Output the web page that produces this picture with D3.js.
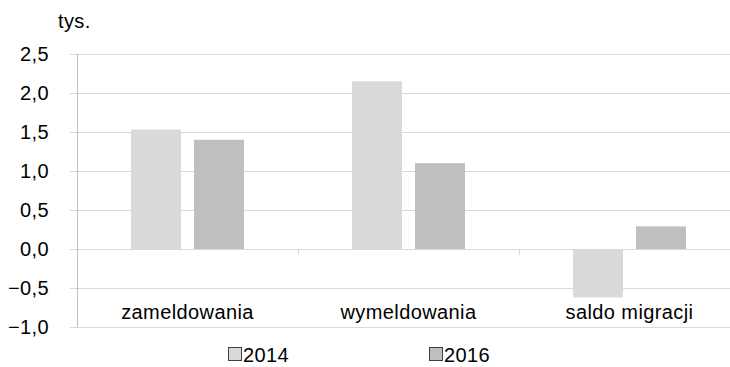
<!DOCTYPE html>
<meta charset="utf-8">
<script src="https://cdn.jsdelivr.net/npm/d3@7"></script>
<style>
body { margin: 0; background: #fff; }
text { font-family: "Liberation Sans", Arial, sans-serif; fill: #000; font-size: 20px; letter-spacing: 0.4px; }
.grid line { stroke: #d9d9d9; stroke-width: 1px; }
</style>
<body>
<script>

var categories = ["zameldowania", "wymeldowania", "saldo migracji"];
var series = ["2014", "2016"];
var values2014 = [1.53, 2.15, -0.62];
var values2016 = [1.40, 1.10, 0.29];
var yTicks = [-1.0, -0.5, 0.0, 0.5, 1.0, 1.5, 2.0, 2.5];
var colors = ["#d9d9d9", "#bfbfbf"];

var width = 730, height = 367;
var mLeft = 77, mRight = 740, mTop = 54, mBottom = 327;

var svg = d3.select("body").append("svg")
    .attr("width", width)
    .attr("height", height);

var x0 = d3.scaleBand()
    .domain(categories)
    .range([mLeft, mRight]);

var x1 = d3.scaleBand()
    .domain(series)
    .range([54, 167])
    .paddingInner(13 / 63);

var y = d3.scaleLinear()
    .domain([-1, 2.5])
    .range([mBottom, mTop]);

var fmt = function(d) { return d3.format(".1f")(d).replace(".", ","); };

// gridlines + y labels
var grid = svg.append("g").attr("class", "grid");
grid.selectAll("line")
    .data(yTicks)
    .enter().append("line")
    .attr("x1", mLeft - 7)
    .attr("x2", width)
    .attr("y1", function(d) { return Math.round(y(d)) + 0.5; })
    .attr("y2", function(d) { return Math.round(y(d)) + 0.5; });

svg.append("g").selectAll("text")
    .data(yTicks)
    .enter().append("text")
    .attr("x", 49)
    .attr("y", function(d) { return y(d) + 7; })
    .attr("text-anchor", "end")
    .text(fmt);

// y axis line
svg.append("line")
    .attr("x1", mLeft + 0.5).attr("x2", mLeft + 0.5)
    .attr("y1", mTop).attr("y2", mBottom)
    .attr("stroke", "#bfbfbf");

// category boundary ticks on zero line
svg.append("g").selectAll("line")
    .data(categories.slice(1))
    .enter().append("line")
    .attr("x1", function(d) { return Math.round(x0(d)) + 0.5; })
    .attr("x2", function(d) { return Math.round(x0(d)) + 0.5; })
    .attr("y1", y(0))
    .attr("y2", y(0) + 6)
    .attr("stroke", "#d9d9d9");

// bars
var data = categories.map(function(c, i) {
  return { cat: c, vals: [values2014[i], values2016[i]] };
});

var groups = svg.append("g").selectAll("g")
    .data(data)
    .enter().append("g")
    .attr("transform", function(d) { return "translate(" + x0(d.cat) + ",0)"; });

groups.selectAll("rect")
    .data(function(d) { return d.vals.map(function(v, j) { return { s: series[j], v: v, j: j }; }); })
    .enter().append("rect")
    .attr("x", function(d) { return x1(d.s); })
    .attr("width", x1.bandwidth())
    .attr("y", function(d) { return y(Math.max(0, d.v)); })
    .attr("height", function(d) { return Math.abs(y(d.v) - y(0)); })
    .attr("fill", function(d) { return colors[d.j]; });

// category labels
svg.append("g").selectAll("text")
    .data(categories)
    .enter().append("text")
    .attr("x", function(d) { return x0(d) + x0.bandwidth() / 2; })
    .attr("y", 319)
    .attr("text-anchor", "middle")
    .text(function(d) { return d; });

// unit label
svg.append("text")
    .attr("x", 58)
    .attr("y", 28)
    .text("tys.");

// legend
var legendX = [228, 429];
var legend = svg.append("g").selectAll("g")
    .data(series)
    .enter().append("g")
    .attr("transform", function(d, i) { return "translate(" + legendX[i] + ",347)"; });

legend.append("rect")
    .attr("x", 0.5).attr("y", 0.5)
    .attr("width", 13).attr("height", 13)
    .attr("fill", function(d, i) { return colors[i]; })
    .attr("stroke", "#404040");

legend.append("text")
    .attr("x", 15)
    .attr("y", 15)
    .text(function(d) { return d; });

</script>
</body>
